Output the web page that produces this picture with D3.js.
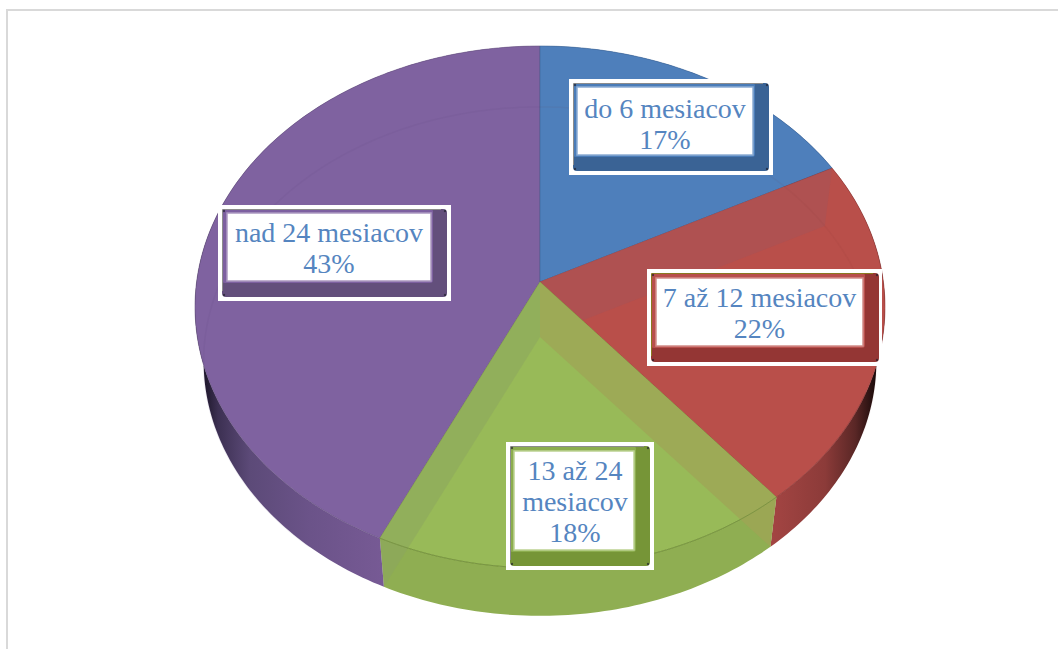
<!DOCTYPE html>
<html>
<head>
<meta charset="utf-8">
<script src="https://cdn.jsdelivr.net/npm/d3@7/dist/d3.min.js"></script>
<style>
  html, body { margin: 0; padding: 0; background: #fff; }
  svg { display: block; }
</style>
</head>
<body>
<div id="chart"></div>
<script>
// data (the labels show them rounded)
var categories = ["do 6 mesiacov", "7 až 12 mesiacov", "13 až 24 mesiacov", "nad 24 mesiacov"];
var values = [17.4, 21.6, 18, 43];
var labelLines = [["do 6 mesiacov"], ["7 až 12 mesiacov"], ["13 až 24", "mesiacov"], ["nad 24 mesiacov"]];

// slice colours
var topColors = ["#4e7fbb", "#b94f4a", "#98ba58", "#7f62a0"];
var faceColors = ["#4a7cb8", "#b84f4c", "#8cad4e", "#7d60a0"];
var darkColors = ["#3a6395", "#943634", "#769537", "#634f7c"];

// label boxes: outer white, bevel, inner white
var labelBoxes = [
  { outer: [569, 79, 773, 175], bevel: [573, 83, 769, 171], inner: [577, 87, 753, 155], first: 118 },
  { outer: [647, 269, 882, 366], bevel: [651, 273, 879, 362], inner: [656, 278, 863, 346], first: 307 },
  { outer: [506, 442, 654, 570], bevel: [510, 446, 650, 566], inner: [514, 451, 634, 550], first: 480 },
  { outer: [218, 205, 451, 301], bevel: [222, 209, 447, 297], inner: [227, 213, 431, 281], first: 242 }
];

//Width and height
var w = 1058;
var h = 649;

// perspective of the disc
var cx = 540, cy = 282;
var k = 0.0958, rx = 343.4, ry = 258.6;
var depthScale = 0.975, cyBottom = 337;

function project(angle, scale, centerY) {
  var u = Math.sin(angle), v = -Math.cos(angle);
  var d = 1 - k * v;
  return [cx + scale * rx * u / d, centerY + scale * ry * v / d];
}
function topRim(a) { return project(a, 1, cy); }
function bottomRim(a) { return project(a, depthScale, cyBottom); }

function arcPoints(rim, a0, a1) {
  var n = Math.ceil(Math.abs(a1 - a0) * 60);
  return d3.range(n + 1).map(function (i) {
    return rim(a0 + (a1 - a0) * i / n);
  });
}

var line = d3.line();
var pie = d3.pie().sort(null).value(function (d) { return d; });
var arcs = pie(values);

var svg = d3.select("#chart").append("svg")
  .attr("width", w)
  .attr("height", h);

// frame of the page
svg.append("rect").attr("x", 6).attr("y", 9).attr("width", w - 6).attr("height", 2).attr("fill", "#d9d9d9");
svg.append("rect").attr("x", 6).attr("y", 9).attr("width", 2).attr("height", h - 9).attr("fill", "#d9d9d9");

var defs = svg.append("defs");
function wallGradient(id, stops) {
  var g = defs.append("linearGradient").attr("id", id)
    .attr("gradientUnits", "userSpaceOnUse")
    .attr("x1", 0).attr("x2", w).attr("y1", 0).attr("y2", 0);
  stops.forEach(function (s) {
    g.append("stop").attr("offset", s[0] / w).attr("stop-color", s[1]);
  });
  return "url(#" + id + ")";
}
var wallFills = [
  "#3a6395",
  wallGradient("wallRed", [[770, "#a44543"], [825, "#8c3b39"], [855, "#5a2726"], [878, "#140808"]]),
  "#8fae52",
  wallGradient("wallPurple", [[200, "#15101f"], [218, "#3c3052"], [250, "#5c4a78"], [310, "#6b5389"], [385, "#775a95"]])
];

// outer walls first, the top faces cover what is behind
var walls = svg.append("g");
arcs.forEach(function (d, i) {
  var pts = arcPoints(topRim, d.startAngle, d.endAngle)
    .concat(arcPoints(bottomRim, d.endAngle, d.startAngle));
  walls.append("path")
    .attr("d", line(pts) + "Z")
    .attr("fill", wallFills[i]);
});

function slicePath(d, rim, centerY) {
  return line([[cx, centerY]].concat(arcPoints(rim, d.startAngle, d.endAngle))) + "Z";
}
function sidePath(a) {
  return line([[cx, cy], topRim(a), bottomRim(a), [cx, cyBottom]]) + "Z";
}

var faces = svg.append("g");
function drawTop(i) {
  faces.append("path")
    .attr("d", slicePath(arcs[i], topRim, cy))
    .attr("fill", topColors[i])
    .attr("stroke", darkColors[i])
    .attr("stroke-opacity", 0.55)
    .attr("stroke-width", 1);
}

drawTop(3);
drawTop(0);
drawTop(1);

// the inner walls show through the glassy top
faces.append("path")
  .attr("d", sidePath(arcs[1].startAngle))
  .attr("fill", "#ad5152")
  .attr("fill-opacity", 0.85);

// rim of the lower disc, seen through the top
faces.append("path")
  .attr("d", line(arcPoints(bottomRim, arcs[3].startAngle + 0.25, arcs[3].endAngle)))
  .attr("fill", "none")
  .attr("stroke", "#5f4a80")
  .attr("stroke-opacity", 0.12)
  .attr("stroke-width", 1.5);
faces.append("path")
  .attr("d", line(arcPoints(bottomRim, arcs[0].startAngle, arcs[1].endAngle - 0.5)))
  .attr("fill", "none")
  .attr("stroke", "#7a3432")
  .attr("stroke-opacity", 0.06)
  .attr("stroke-width", 1.5);

// green slice lies over everything, its walls included
drawTop(2);
faces.append("path")
  .attr("d", sidePath(arcs[2].startAngle))
  .attr("fill", "#9fa455")
  .attr("fill-opacity", 0.75);
faces.append("path")
  .attr("d", sidePath(arcs[2].endAngle))
  .attr("fill", "#8da55f")
  .attr("fill-opacity", 0.55);

// front edge of the green top
faces.append("path")
  .attr("d", line(arcPoints(topRim, arcs[2].startAngle, arcs[2].endAngle)))
  .attr("fill", "none")
  .attr("stroke", "#6f8c3a")
  .attr("stroke-opacity", 0.7);

// edge between top and wall
faces.append("path")
  .attr("d", line(arcPoints(topRim, arcs[1].startAngle + 0.9, arcs[1].endAngle)))
  .attr("fill", "none")
  .attr("stroke", "#8a3b39")
  .attr("stroke-opacity", 0.5);

// labels
var labels = svg.selectAll("g.label")
  .data(categories)
  .enter()
  .append("g")
  .attr("class", "label");

labels.each(function (name, i) {
  var g = d3.select(this);
  var box = labelBoxes[i];
  function rect(b, fill, rxy) {
    return g.append("rect")
      .attr("x", b[0]).attr("y", b[1])
      .attr("width", b[2] - b[0]).attr("height", b[3] - b[1])
      .attr("rx", rxy || 0)
      .attr("fill", fill);
  }
  rect(box.outer, "#fff");
  rect(box.bevel, darkColors[i], 4);
  // lighter front plate, leaves the dark edge at right and bottom
  rect([box.bevel[0], box.bevel[1], box.inner[2] + 2, box.inner[3] + 2], faceColors[i], 3);
  // thin grey line along the top and left of the plate
  g.append("path")
    .attr("d", line([[box.bevel[0] + 0.5, box.bevel[3] - 6], [box.bevel[0] + 0.5, box.bevel[1] + 0.5], [box.bevel[2] - 6, box.bevel[1] + 0.5]]))
    .attr("fill", "none")
    .attr("stroke", i === 1 ? "#8a7a20" : "#8c8c8c");
  rect(box.inner, "#fff")
    .attr("stroke", d3.interpolateRgb(topColors[i], "#fff")(0.35))
    .attr("stroke-width", 1.5);

  // small dark specks on the bevel corners
  [[box.bevel[0], box.bevel[1]], [box.bevel[2], box.bevel[1]], [box.bevel[0], box.bevel[3]], [box.bevel[2], box.bevel[3]]].forEach(function (c) {
    g.append("circle")
      .attr("cx", c[0] + (c[0] === box.bevel[0] ? 2 : -2))
      .attr("cy", c[1] + (c[1] === box.bevel[1] ? 2 : -2))
      .attr("r", 1.2)
      .attr("fill", "#1c1c2a")
      .attr("fill-opacity", 0.65);
  });

  var textLines = labelLines[i].concat([Math.round(values[i]) + "%"]);
  var mid = (box.inner[0] + box.inner[2]) / 2;
  textLines.forEach(function (t, j) {
    g.append("text")
      .text(t)
      .attr("x", mid + (i === 2 ? 1 : 0))
      .attr("y", box.first + j * 31)
      .attr("text-anchor", "middle")
      .attr("font-family", "'Liberation Serif', serif")
      .attr("font-size", "28px")
      .attr("fill", "#5585c0");
  });
});
</script>
</body>
</html>
